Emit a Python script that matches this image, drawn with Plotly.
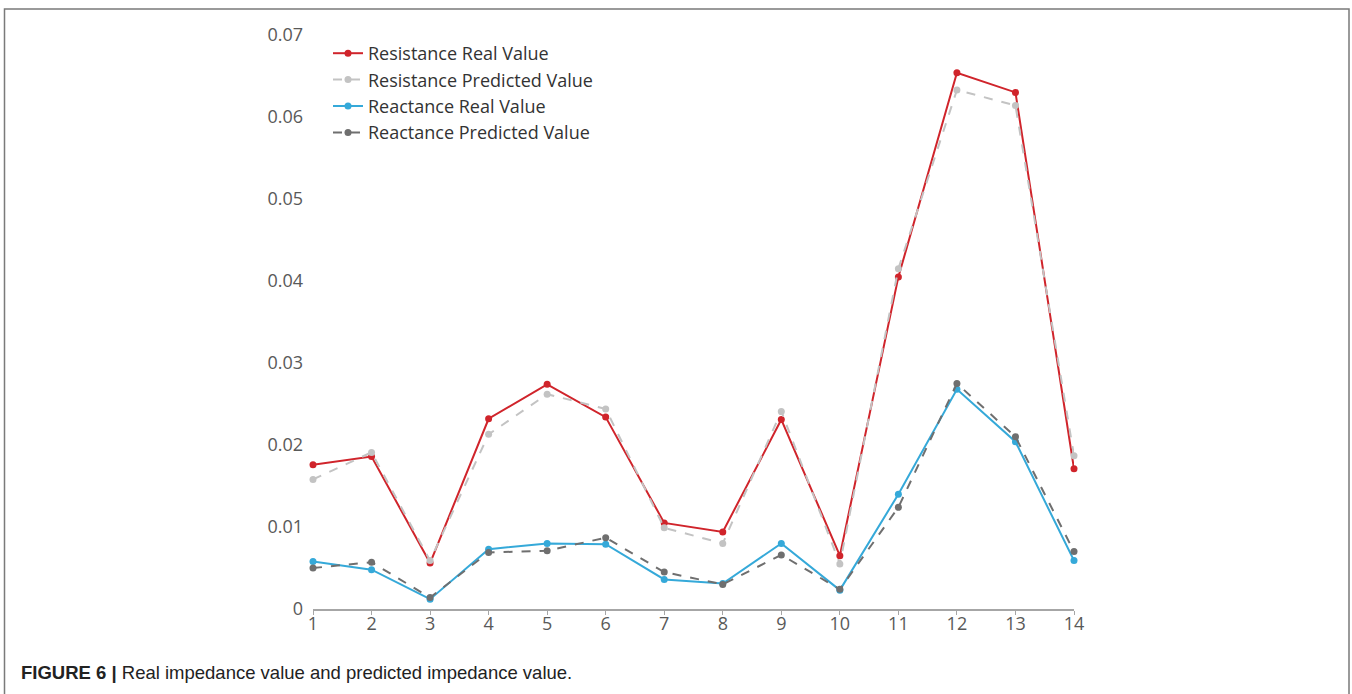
import plotly.graph_objects as go

x_vals = list(range(1, 15))
x_tick_labels = [str(i) for i in x_vals]

resistance_real = [0.0176, 0.0186, 0.0056, 0.0232, 0.0274, 0.0234, 0.0105,
                   0.0094, 0.0231, 0.0065, 0.0405, 0.0654, 0.0630, 0.0171]
resistance_pred = [0.0158, 0.0191, 0.0059, 0.0213, 0.0262, 0.0244, 0.0099,
                   0.0080, 0.0241, 0.0055, 0.0415, 0.0633, 0.0614, 0.0187]
reactance_real = [0.0058, 0.0048, 0.0012, 0.0073, 0.0080, 0.0079, 0.0036,
                  0.0031, 0.0080, 0.0023, 0.0140, 0.0268, 0.0204, 0.0059]
reactance_pred = [0.0050, 0.0057, 0.0014, 0.0069, 0.0071, 0.0087, 0.0045,
                  0.0030, 0.0066, 0.0024, 0.0124, 0.0275, 0.0210, 0.0070]

y_ticks = [0, 0.01, 0.02, 0.03, 0.04, 0.05, 0.06, 0.07]
y_tick_labels = ["0", "0.01", "0.02", "0.03", "0.04", "0.05", "0.06", "0.07"]

W, H = 1352, 694
L, R, T, B = 313, 1074, 35, 609
pw, ph = R - L, B - T

def px(xp):
    return (xp - L) / pw

def py(yp):
    return (B - yp) / ph

fig = go.Figure()
series = [
    ("Resistance Real Value", resistance_real, "#d0242b", "solid"),
    ("Resistance Predicted Value", resistance_pred, "#c3c3c3", "dash"),
    ("Reactance Real Value", reactance_real, "#35a9d9", "solid"),
    ("Reactance Predicted Value", reactance_pred, "#6f6f6f", "dash"),
]
for name, vals, color, dash in series:
    fig.add_trace(go.Scatter(
        x=x_vals, y=vals, name=name, mode="lines+markers",
        line=dict(color=color, width=2, dash=dash),
        marker=dict(color=color, size=7),
        cliponaxis=False,
    ))

fig.update_layout(
    width=W, height=H,
    margin=dict(l=L, r=W - R, t=T, b=H - B),
    paper_bgcolor="white", plot_bgcolor="white",
    font=dict(family="Open Sans", size=18, color="#595959"),
    showlegend=True,
    legend=dict(x=px(328), y=py(35), xanchor="left", yanchor="top",
                bgcolor="rgba(0,0,0,0)", font=dict(size=18, color="#333333"),
                tracegroupgap=0, itemwidth=30),
    xaxis=dict(range=[1, 14], tickmode="array", tickvals=x_vals,
               ticktext=x_tick_labels, showgrid=False, zeroline=False,
               showline=True, linecolor="#a6a6a6", linewidth=1.5,
               ticks="outside", ticklen=4, tickcolor="#a6a6a6",
               ticklabelstandoff=-6,
               tickfont=dict(size=18, color="#595959")),
    yaxis=dict(range=[0, 0.07], tickmode="array", tickvals=y_ticks,
               ticktext=y_tick_labels, showgrid=False, zeroline=False,
               showline=False, ticks="", ticklabelstandoff=9,
               tickfont=dict(size=18, color="#595959")),
)

# outer frame (left, top, right)
fig.add_shape(type="path", xref="paper", yref="paper",
              path=f"M {px(4.5)} {py(720)} L {px(4.5)} {py(9)} L {px(1349)} {py(9)} L {px(1349)} {py(720)}",
              line=dict(color="#7a7a7a", width=1.5))

fig.add_annotation(
    xref="paper", yref="paper", x=px(19), y=py(672),
    xanchor="left", yanchor="middle", showarrow=False,
    text="<b>FIGURE 6 |</b> Real impedance value and predicted impedance value.",
    font=dict(family="Liberation Sans", size=18.5, color="#222222"),
)

fig.write_html(
    "out.html",
    config={"displayModeBar": False},
    post_script="document.body.style.margin='0';document.body.style.overflow='hidden';",
)
